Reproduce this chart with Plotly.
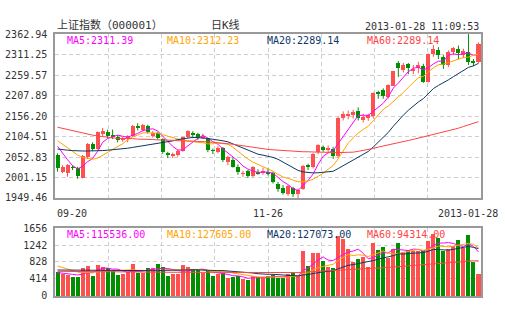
import plotly.graph_objects as go

# ---- daily candles, 2012-09-20 .. 2013-01-28 (85 sessions) ----
opens = [2058, 2016, 2012, 2027, 2026, 2000, 2052, 2086, 2074, 2110,
         2116, 2109, 2103, 2097, 2098, 2106, 2129, 2120, 2132, 2106,
         2112, 2098, 2061, 2056, 2057, 2069, 2102, 2114, 2110, 2100,
         2098, 2070, 2064, 2076, 2041, 2045, 2028, 2010, 2018, 2004,
         2015, 2014, 2016, 2012, 1984, 1975, 1960, 1975, 1958, 1972,
         2030, 2027, 2064, 2078, 2070, 2074, 2054, 2150, 2155, 2158,
         2168, 2148, 2150, 2156, 2217, 2222, 2205, 2233, 2290, 2272,
         2288, 2272, 2276, 2283, 2243, 2312, 2322, 2306, 2285, 2318,
         2326, 2310, 2318, 2296, 2292]
highs = [2062, 2032, 2035, 2032, 2028, 2058, 2088, 2090, 2117, 2126,
         2122, 2122, 2108, 2104, 2108, 2134, 2138, 2136, 2134, 2118,
         2116, 2100, 2066, 2064, 2072, 2104, 2120, 2118, 2114, 2112,
         2100, 2074, 2080, 2078, 2056, 2052, 2034, 2018, 2020, 2030,
         2022, 2026, 2024, 2016, 1990, 1982, 1982, 1978, 1973, 2033,
         2036, 2063, 2085, 2082, 2082, 2078, 2154, 2168, 2170, 2172,
         2178, 2162, 2162, 2216, 2220, 2226, 2236, 2270, 2295, 2290,
         2290, 2285, 2293, 2288, 2314, 2335, 2330, 2310, 2322, 2330,
         2334, 2326, 2362.94, 2300, 2342]
lows = [2016, 2012, 2003, 2020, 1998, 1999, 2048, 2068, 2072, 2105,
        2100, 2098, 2090, 2091, 2090, 2104, 2120, 2117, 2112, 2102,
        2097, 2061, 2050, 2050, 2054, 2066, 2100, 2100, 2096, 2098,
        2065, 2060, 2062, 2040, 2032, 2026, 2008, 2003, 2000, 2002,
        2008, 2008, 2006, 1986, 1965, 1958, 1955, 1952, 1949.46, 1970,
        2020, 2024, 2060, 2066, 2062, 2048, 2050, 2145, 2148, 2150,
        2145, 2140, 2144, 2150, 2200, 2200, 2200, 2232, 2255, 2266,
        2262, 2262, 2264, 2240, 2241, 2306, 2300, 2275, 2280, 2310,
        2300, 2302, 2285, 2282, 2290]
closes = [2024, 2027, 2033, 2026, 2004, 2056, 2086, 2074, 2115, 2118,
          2105, 2105, 2098, 2100, 2105, 2131, 2128, 2133, 2115, 2114,
          2101, 2066, 2058, 2058, 2069, 2102, 2117, 2108, 2104, 2106,
          2070, 2069, 2076, 2044, 2053, 2028, 2014, 2012, 2004, 2028,
          2012, 2018, 2012, 1990, 1973, 1961, 1980, 1959, 1970, 2031,
          2029, 2060, 2082, 2071, 2076, 2055, 2150, 2160, 2162, 2166,
          2150, 2153, 2159, 2213, 2211, 2206.35, 2233.2, 2269.13, 2276.99, 2285.36,
          2276.07, 2275.34, 2283.66, 2242.66, 2311.74, 2325.68, 2309.06, 2284.91, 2317.30, 2328.40,
          2315.14, 2320.72, 2293.00, 2291.30, 2336.79]

# turnover per session (axis units)
volumes = [591, 536, 513, 457, 457, 686, 733, 497, 765, 710,
           686, 607, 505, 528, 591, 781, 568, 552, 670, 670,
           789, 710, 497, 544, 544, 757, 694, 631, 631, 552,
           615, 489, 528, 552, 434, 457, 473, 410, 379, 473,
           450, 457, 489, 513, 434, 434, 536, 568, 473, 1096,
           726, 1041, 1041, 852, 710, 670, 1459, 1380, 1136, 828,
           907, 946, 710, 1301, 1120, 1183, 931, 1143, 1278, 1065,
           1120, 1104, 1104, 1088, 1341, 1514, 1404, 1104, 1143, 1222,
           1356, 1167, 1475, 828, 528]

# moving-average values carried in from sessions before the first candle
ma5_head = [2080, 2062, 2046, 2031]
ma10_head = [2094, 2085, 2075, 2065, 2058, 2052, 2049, 2047, 2050]
ma20_head = [2073, 2071, 2070, 2069, 2068, 2068, 2068, 2068, 2068, 2069,
             2070, 2071, 2072, 2073, 2075, 2077, 2079, 2081, 2084]
ma60_head = [2128, 2125, 2122, 2119, 2116, 2113, 2110, 2108, 2106, 2104,
             2102, 2101, 2100, 2100, 2099, 2099, 2098, 2098, 2097, 2097,
             2096, 2096, 2095, 2095, 2094, 2094, 2093, 2093, 2092, 2092,
             2091, 2090, 2089, 2088, 2087, 2085, 2083, 2081, 2079, 2077,
             2075, 2074, 2072, 2071, 2070, 2069, 2068, 2067, 2067, 2066,
             2066, 2065, 2065, 2065, 2064, 2064, 2064, 2064, 2064]
vma5_head = [570, 560, 545, 525]
vma10_head = [730, 690, 645, 605, 580, 570, 570, 575, 585]
vma20_head = [632, 631, 630, 629, 628, 627, 626, 625, 624, 623,
              622, 621, 620, 619, 618, 616, 614, 612, 610]
vma60_head = [600, 598, 597, 596, 595, 594, 593, 592, 591, 590,
              589, 588, 587, 586, 585, 584, 583, 582, 581, 580,
              579, 578, 577, 576, 575, 574, 573, 572, 571, 570,
              570, 569, 569, 568, 568, 568, 567, 567, 567, 567,
              567, 567, 567, 567, 567, 568, 568, 569, 569, 580,
              586, 595, 603, 610, 615, 619, 628, 636, 640]

price_ticks = [1949.46, 2001.15, 2052.83, 2104.51, 2156.20, 2207.89, 2259.57, 2311.25, 2362.94]
volume_ticks = [0, 414, 828, 1242, 1656]
date_labels = ["09-20", "11-26", "2013-01-28"]
ma_price_text = ["MA5:2311.39", "MA10:2312.23", "MA20:2289.14", "MA60:2289.14"]
ma_volume_text = ["MA5:115536.00", "MA10:127605.00", "MA20:127073.00", "MA60:94314.00"]

RED = "#ff5050"
GREEN = "#008f00"
MA_COLORS = ["#ff00ff", "#ffa500", "#0c3766", "#ff4444"]
GRID = "#cfcfcf"
FRAME = "#999999"
TXT = "#333333"
FONT = "DejaVu Sans Mono, Noto Sans CJK SC, monospace"

W, H = 505, 330
N = len(closes)
idx = list(range(N))


def moving(values, n, head):
    out = list(head)
    for i in range(len(head), len(values)):
        out.append(sum(values[i - n + 1:i + 1]) / n)
    return out


ma_price = [moving(closes, 5, ma5_head), moving(closes, 10, ma10_head),
            moving(closes, 20, ma20_head), moving(closes, 60, ma60_head)]
ma_vol = [moving(volumes, 5, vma5_head), moving(volumes, 10, vma10_head),
          moving(volumes, 20, vma20_head), moving(volumes, 60, vma60_head)]

up = [c >= o for o, c in zip(opens, closes)]
colors = [RED if u else GREEN for u in up]

fig = go.Figure()

# wicks
for flag, col in ((True, RED), (False, GREEN)):
    wx, wy = [], []
    for i in idx:
        if up[i] == flag:
            wx += [i, i, None]
            wy += [lows[i], highs[i], None]
    fig.add_trace(go.Scatter(x=wx, y=wy, mode="lines", line=dict(color=col, width=1),
                             hoverinfo="skip", showlegend=False, xaxis="x", yaxis="y"))

# bodies (a doji still shows as a thin bar)
body_base = [min(o, c) for o, c in zip(opens, closes)]
body_len = [max(abs(c - o), 1.2) for o, c in zip(opens, closes)]
fig.add_trace(go.Bar(x=idx, y=body_len, base=body_base, width=0.8,
                     marker=dict(color=colors, line=dict(width=0)),
                     showlegend=False, xaxis="x", yaxis="y"))

for series, col in zip(ma_price, MA_COLORS):
    fig.add_trace(go.Scatter(x=idx, y=series, mode="lines", line=dict(color=col, width=1),
                             showlegend=False, xaxis="x", yaxis="y"))

# volume panel
fig.add_trace(go.Bar(x=idx, y=volumes, width=0.8, marker=dict(color=colors, line=dict(width=0)),
                     showlegend=False, xaxis="x2", yaxis="y2"))
for series, col in zip(ma_vol, MA_COLORS):
    fig.add_trace(go.Scatter(x=idx, y=series, mode="lines", line=dict(color=col, width=1),
                             showlegend=False, xaxis="x2", yaxis="y2"))

x0, x1 = 55, 481
main_top, main_bot = 30, 199
vol_top, vol_bot = 230, 300
xdom = [x0 / W, x1 / W]
xgrid = [-0.5 + k * N / 8 for k in range(1, 8)]

common_x = dict(domain=xdom, range=[-0.5, N - 0.5], tickvals=xgrid, ticktext=[""] * 7,
                showgrid=True, gridcolor=GRID, griddash="4px,3px", gridwidth=1,
                zeroline=False, showline=True, linecolor=FRAME, linewidth=1.5, mirror=True,
                ticks="", fixedrange=True)
fig.update_layout(
    width=W, height=H, margin=dict(l=0, r=0, t=0, b=0),
    paper_bgcolor="white", plot_bgcolor="white", barmode="overlay", bargap=0,
    showlegend=False, hovermode=False,
    xaxis=dict(anchor="y", **common_x),
    xaxis2=dict(anchor="y2", **common_x),
    yaxis=dict(domain=[1 - main_bot / H, 1 - main_top / H], range=[price_ticks[0], price_ticks[-1]],
               tickvals=price_ticks, ticktext=[f"{t:.2f}" for t in price_ticks],
               tickfont=dict(family=FONT, size=10, color=TXT), ticklabelstandoff=4,
               showgrid=True, gridcolor=GRID, griddash="4px,3px", zeroline=False,
               showline=True, linecolor=FRAME, linewidth=1.5, mirror=True, ticks=""),
    yaxis2=dict(domain=[1 - vol_bot / H, 1 - vol_top / H], range=[0, volume_ticks[-1]],
                tickvals=volume_ticks, ticktext=[str(t) for t in volume_ticks],
                tickfont=dict(family=FONT, size=10, color=TXT), ticklabelstandoff=4,
                showgrid=True, gridcolor=GRID, griddash="4px,3px", zeroline=False,
                showline=True, linecolor=FRAME, linewidth=1.5, mirror=True, ticks=""),
)


def note(text, px, py, color=TXT, anchor="left", size=10):
    fig.add_annotation(text=text, x=px / W, y=1 - py / H, xref="paper", yref="paper",
                       xanchor=anchor, yanchor="middle", showarrow=False,
                       font=dict(family=FONT, size=size, color=color))


note("上证指数（000001）", 55, 21, size=11)
note("日K线", 225, 21, anchor="center", size=11)
note("2013-01-28 11:09:53", 481, 22, anchor="right")

for k, (t, col) in enumerate(zip(ma_price_text, MA_COLORS)):
    note(t, 65 + 100 * k, 37, color=col)
for k, (t, col) in enumerate(zip(ma_volume_text, MA_COLORS)):
    note(t, 65 + 100 * k, 237, color=col)

note(date_labels[0], 55, 215)
note(date_labels[1], 268, 215, anchor="center")
note(date_labels[2], 500, 215, anchor="right")

fig.write_html("out.html")
